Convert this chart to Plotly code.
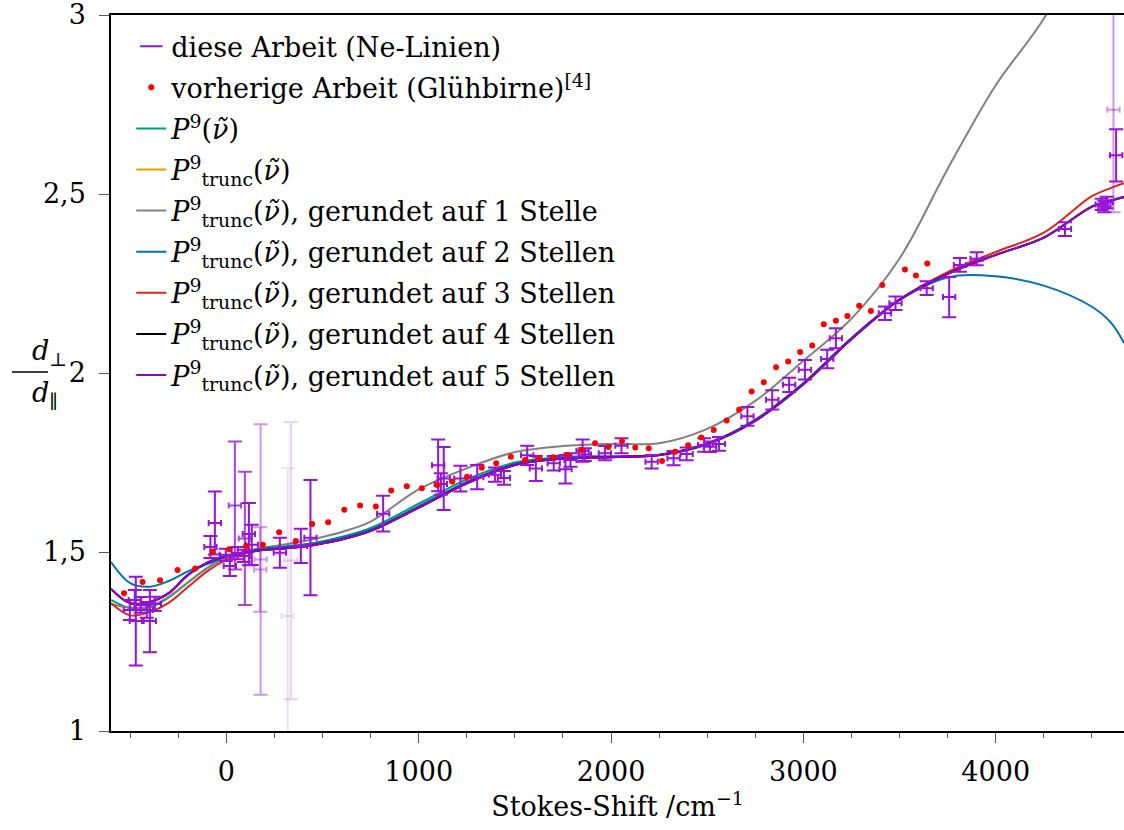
import plotly.graph_objects as go

# ---- Ne-lines (this work): Stokes shift, ratio, uncertainties, opacity weight ----
ne_x = [-471, -398, -476, -445, -414, -372, -502, -60, -83, 44, 18, -3, 59, 90, 96, 117, 132,
        178, 176, 335, 319, 278, 387, 437, 815, 1101, 1130, 1115, 1217, 1304, 1396, 1443,
        1564, 1609, 1702, 1763, 1789, 1852, 1864, 1968, 2054, 2211, 2325, 2393, 2484, 2514,
        2561, 2709, 2838, 2926, 3008, 3124, 3169, 3424, 3479, 3641, 3758, 3814, 3901, 4360,
        4551, 4577, 4565, 4612, 4626]
ne_y = [1.307, 1.307, 1.366, 1.352, 1.338, 1.355, 1.338, 1.581, 1.514, 1.630, 1.461, 1.492,
        1.497, 1.489, 1.538, 1.550, 1.520, 1.479, 1.451, 1.476, 1.321, 1.498, 1.517, 1.540,
        1.607, 1.742, 1.705, 1.690, 1.705, 1.709, 1.716, 1.707, 1.770, 1.733, 1.748, 1.731,
        1.757, 1.783, 1.772, 1.776, 1.797, 1.752, 1.762, 1.774, 1.799, 1.794, 1.802, 1.879,
        1.925, 1.967, 2.009, 2.039, 2.097, 2.167, 2.195, 2.237, 2.212, 2.302, 2.319, 2.402,
        2.471, 2.476, 2.465, 2.735, 2.608]
ne_dy = [0.124, 0.087, 0.028, 0.022, 0.022, 0.020, 0.028, 0.088, 0.031, 0.179, 0.028, 0.017,
         0.017, 0.017, 0.186, 0.087, 0.056, 0.378, 0.118, 0.387, 0.413, 0.042, 0.048, 0.161,
         0.050, 0.072, 0.088, 0.030, 0.036, 0.034, 0.020, 0.019, 0.027, 0.035, 0.020, 0.040,
         0.019, 0.031, 0.018, 0.020, 0.021, 0.019, 0.020, 0.018, 0.019, 0.015, 0.019, 0.026,
         0.027, 0.020, 0.027, 0.026, 0.028, 0.019, 0.019, 0.019, 0.056, 0.019, 0.018, 0.019,
         0.016, 0.016, 0.016, 0.286, 0.073]
ne_dx = [32] * len(ne_x)
ne_alpha = [1, 1, 1, 1, 1, 1, 1, 1, 1, 0.8, 1, 1, 1, 1, 0.8, 1, 1,
            0.45, 0.45, 0.2, 0.15, 1, 1, 1, 1, 1, 1, 1, 1, 1, 1, 1,
            1, 1, 1, 1, 1, 1, 1, 1, 1, 1, 1, 1, 1, 1,
            1, 1, 1, 1, 1, 1, 1, 1, 1, 1, 1, 1, 1, 1,
            1, 1, 1, 0.45, 1]

# ---- previous work (light bulb) ----
prev_x = [-532, -436, -345, -254, -162, -73, 15, 103, 189, 274, 361, 446, 529, 613, 695, 777,
          857, 938, 1016, 1096, 1174, 1251, 1328, 1403, 1479, 1553, 1626, 1700, 1773, 1845,
          1917, 1986, 2057, 2126, 2196, 2265, 2333, 2401, 2469, 2534, 2601, 2666, 2731, 2794,
          2858, 2921, 2983, 3046, 3106, 3169, 3229, 3290, 3351, 3410, 3528, 3585, 3644]
prev_y = [1.385, 1.416, 1.421, 1.450, 1.454, 1.501, 1.508, 1.517, 1.520, 1.555, 1.531, 1.578,
          1.583, 1.618, 1.630, 1.627, 1.672, 1.684, 1.678, 1.687, 1.697, 1.710, 1.735, 1.748,
          1.766, 1.757, 1.761, 1.765, 1.771, 1.785, 1.804, 1.793, 1.810, 1.792, 1.790, 1.754,
          1.780, 1.798, 1.820, 1.841, 1.867, 1.897, 1.948, 1.974, 2.016, 2.032, 2.059, 2.077,
          2.136, 2.146, 2.159, 2.188, 2.173, 2.246, 2.289, 2.272, 2.306]

# ---- fitted polynomials, sampled ----
nu = [-600, -500, -400, -300, -200, -100, 0, 100, 200, 300, 400, 500, 600, 750, 1000, 1250,
      1500, 1750, 2000, 2250, 2500, 2750, 3000, 3250, 3500, 3750, 4000, 4250, 4500, 4600, 4667]
p9 = [1.366, 1.343, 1.345, 1.373, 1.415, 1.455, 1.484, 1.498, 1.508, 1.514, 1.520, 1.530,
      1.542, 1.567, 1.635, 1.703, 1.750, 1.765, 1.767, 1.770, 1.800, 1.866, 1.968, 2.095,
      2.205, 2.277, 2.330, 2.378, 2.465, 2.482, 2.492]
p9_trunc = [1.397, 1.357, 1.360, 1.385, 1.436, 1.470, 1.489, 1.499, 1.506, 1.510, 1.515, 1.524,
            1.535, 1.559, 1.624, 1.692, 1.743, 1.761, 1.765, 1.771, 1.802, 1.867, 1.969, 2.095,
            2.205, 2.277, 2.330, 2.378, 2.465, 2.482, 2.492]
p9_r1 = [1.355, 1.345, 1.348, 1.375, 1.415, 1.455, 1.485, 1.502, 1.513, 1.521, 1.530, 1.542,
         1.556, 1.585, 1.675, 1.734, 1.779, 1.796, 1.802, 1.804, 1.844, 1.922, 2.034, 2.152,
         2.320, 2.570, 2.804, 2.990, 3.250, 3.400, 3.500]
p9_r2 = [1.472, 1.413, 1.403, 1.419, 1.446, 1.466, 1.487, 1.501, 1.510, 1.515, 1.521, 1.529,
         1.541, 1.563, 1.628, 1.696, 1.746, 1.765, 1.767, 1.772, 1.804, 1.870, 1.972, 2.098,
         2.204, 2.267, 2.270, 2.244, 2.185, 2.140, 2.084]
p9_r3 = [1.357, 1.323, 1.332, 1.358, 1.402, 1.446, 1.478, 1.497, 1.506, 1.510, 1.515, 1.524,
         1.535, 1.559, 1.624, 1.692, 1.743, 1.761, 1.765, 1.771, 1.802, 1.867, 1.969, 2.095,
         2.205, 2.282, 2.338, 2.392, 2.494, 2.517, 2.530]
p9_r4 = p9_trunc
p9_r5 = p9_trunc

x_ticks = [0, 1000, 2000, 3000, 4000]
y_ticks = [1, 1.5, 2, 2.5, 3]
y_tick_text = ["1", "1,5", "2", "2,5", "3"]

SERIF = "DejaVu Serif"
FS = 27

PT = "<i>P</i><sup>9</sup><sub>trunc</sub>(<i>ν̃</i>)"
curves = [
    ("<i>P</i><sup>9</sup>(<i>ν̃</i>)", p9, "#009E73"),
    (PT, p9_trunc, "#E69F00"),
    (PT + ", gerundet auf 1 Stelle", p9_r1, "#808080"),
    (PT + ", gerundet auf 2 Stellen", p9_r2, "#0072B2"),
    (PT + ", gerundet auf 3 Stellen", p9_r3, "#E2231A"),
    (PT + ", gerundet auf 4 Stellen", p9_r4, "#000000"),
    (PT + ", gerundet auf 5 Stellen", p9_r5, "#9400D3"),
]

PURPLE = (150, 20, 215)

fig = go.Figure()

for i, (name, ys, col) in enumerate(curves):
    fig.add_trace(go.Scatter(
        x=nu, y=ys, mode="lines", name=name, legendrank=10 + i, legendgroup="c%d" % i,
        line=dict(color=col, width=2, shape="spline", smoothing=1.0),
    ))

# measured points, grouped by opacity
for a in sorted(set(ne_alpha)):
    idx = [k for k, v in enumerate(ne_alpha) if v == a]
    col = "rgba(%d,%d,%d,%s)" % (PURPLE + (a,))
    fig.add_trace(go.Scatter(
        x=[ne_x[k] for k in idx], y=[ne_y[k] for k in idx], mode="markers",
        marker=dict(size=1, color=col), showlegend=False, legendgroup="ne",
        error_y=dict(type="data", array=[ne_dy[k] for k in idx], color=col, thickness=2, width=7),
        error_x=dict(type="data", array=[ne_dx[k] for k in idx], color=col, thickness=2, width=3),
    ))

# legend entry for the measured points
fig.add_trace(go.Scatter(
    x=[None], y=[None], mode="markers", name="diese Arbeit (Ne-Linien)", legendrank=1,
    legendgroup="ne",
    marker=dict(symbol="line-ew", size=24, color="rgb(%d,%d,%d)" % PURPLE,
                line=dict(width=2, color="rgb(%d,%d,%d)" % PURPLE)),
))

fig.add_trace(go.Scatter(
    x=prev_x, y=prev_y, mode="markers", legendrank=2, legendgroup="prev",
    name="vorherige Arbeit (Glühbirne)<sup>[4]</sup>",
    marker=dict(size=6, color="#FF0000"),
))

L, R, T, B = 111, 0, 15, 99
W, H = 1124, 830
pw, ph = W - L - R, H - T - B


def px_to_paper(px, py):
    return (px - L) / pw, (H - B - py) / ph


fx1, fy1 = px_to_paper(30, 352)
fx2, fy2 = px_to_paper(30, 394)
bx0, by = px_to_paper(12, 372)
bx1, _ = px_to_paper(48, 372)

fig.update_layout(
    width=W, height=H,
    margin=dict(l=L, r=R, t=T, b=B, pad=0),
    plot_bgcolor="white", paper_bgcolor="white",
    font=dict(family=SERIF, size=FS, color="black"),
    showlegend=True,
    legend=dict(x=0.02, y=0.99, xanchor="left", yanchor="top",
                bgcolor="rgba(0,0,0,0)", font=dict(family=SERIF, size=FS),
                traceorder="grouped", tracegroupgap=3, itemwidth=30,
                groupclick="toggleitem"),
    xaxis=dict(
        range=[-600, 4667], tickvals=x_ticks, ticks="outside", ticklen=10,
        tickcolor="#555555", tickwidth=1.2, showline=True, linecolor="black",
        linewidth=1.5, mirror=True, showgrid=False, zeroline=False,
        tickfont=dict(family=SERIF, size=FS), ticklabelstandoff=6,
        minor=dict(dtick=250, tick0=0, ticks="outside", ticklen=5, tickcolor="#555555"),
        title=dict(text="Stokes-Shift /cm<sup>−1</sup>", standoff=10,
                   font=dict(family=SERIF, size=FS)),
    ),
    yaxis=dict(
        range=[1, 3], tickvals=y_ticks, ticktext=y_tick_text, ticks="outside",
        ticklen=10, tickcolor="#555555", tickwidth=1.2, showline=True,
        linecolor="black", linewidth=1.5, mirror=False, showgrid=False,
        zeroline=False, ticklabelstandoff=8, ticklabeloverflow="allow",
        tickfont=dict(family=SERIF, size=FS),
    ),
    annotations=[
        dict(x=fx1, y=fy1, xref="paper", yref="paper", showarrow=False,
             text="<i>d</i><sub>⊥</sub>", font=dict(family=SERIF, size=FS)),
        dict(x=fx2, y=fy2, xref="paper", yref="paper", showarrow=False,
             text="<i>d</i><sub>∥</sub>", font=dict(family=SERIF, size=FS)),
    ],
    shapes=[dict(type="line", xref="paper", yref="paper", x0=bx0, x1=bx1, y0=by, y1=by,
                 line=dict(color="black", width=1.5))],
)

fig.write_html("out.html")
